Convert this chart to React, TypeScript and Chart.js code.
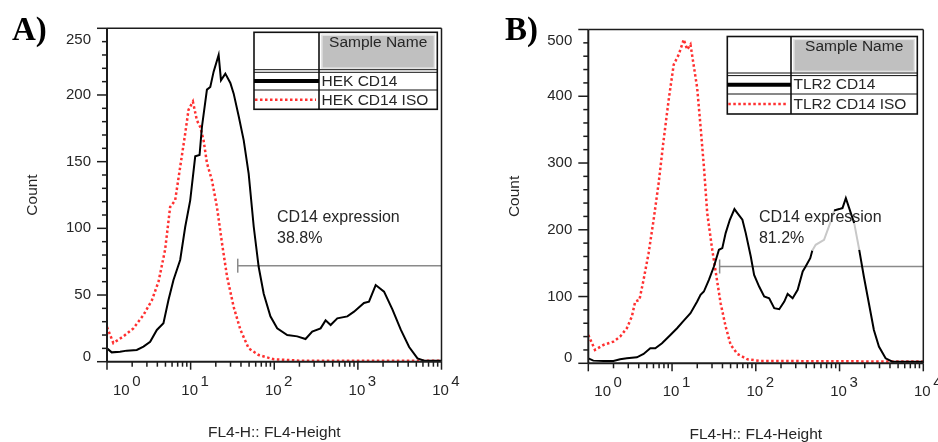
import React, { useEffect, useRef } from "react";
import { Chart, registerables } from "chart.js";

Chart.register(...registerables);

// ---------- Panel A data (HEK) ----------
const hekCd14X = [1, 1.138, 1.432, 1.722, 2.27, 2.729, 3.281, 3.945, 4.732, 5.433, 6.237, 7.499, 8.61, 9.886, 11.35, 12.79, 13.65, 15.67, 17.18, 18.84, 21.63, 23.07, 26.0, 29.85, 32.73, 37.58, 43.15, 49.43, 56.89, 65.16, 74.82, 89.95, 108.4, 142.9, 188.4, 236.6, 284.4, 358.1, 411.1, 472.1, 567.5, 748.2, 899.5, 1183, 1358, 1633, 2056, 2594, 3258, 4102, 5164, 6209, 10000];
const hekCd14Count = [10, 7, 7.5, 8.3, 8.8, 11.3, 15, 23.8, 28.8, 46.3, 61.3, 76.3, 101, 121, 154, 155, 176, 204, 206, 217.5, 230, 211, 216, 209, 201, 184, 166, 141, 101, 71, 51, 34, 25, 20, 19, 17, 22.5, 25, 31, 27.5, 32.5, 34, 37.5, 44, 45, 57.5, 52.5, 39, 24, 11, 2.5, 0.8, 0.8];
const hekIsoX = [1, 1.191, 1.57, 2.07, 2.729, 3.436, 4.13, 4.955, 5.689, 6.531, 7.499, 8.61, 9.441, 10.64, 11.89, 13.03, 14.29, 15.67, 17.99, 20.65, 23.71, 27.23, 32.73, 39.36, 49.43, 65.16, 98.6, 199.5, 10000];
const hekIsoCount = [26, 14, 19, 25, 35, 46, 60, 84, 116, 121, 146, 171, 189, 195, 181, 176, 166, 149, 136, 116, 89, 64, 41, 24, 10, 5, 1.8, 0.8, 0.8];

// ---------- Panel B data (TLR2) ----------
const tlr2Cd14X = [1, 1.148, 1.514, 1.995, 2.399, 2.884, 3.802, 4.571, 5.495, 6.31, 7.586, 9.55, 11.48, 13.8, 16.6, 19.95, 21.88, 23.99, 27.54, 31.62, 36.31, 39.81, 43.65, 48.98, 55.59, 60.26, 69.18, 75.86, 87.1, 95.5, 109.6, 125.9, 144.5, 166.0, 190.5, 218.8, 239.9, 275.4, 316.2, 363.1, 393.6, 446.7, 473.2, 518.8, 653.1, 785.2, 861.0, 988.6, 1084, 1189, 1303, 1496, 1718, 1950, 2239, 2570, 2951, 3548, 4266, 10000];
const tlr2Cd14Count = [7.5, 4, 3.5, 3.5, 6, 7.5, 9, 14, 22.5, 22.5, 30, 42.5, 52.5, 64, 75, 92.5, 102.5, 107.5, 125, 145, 170, 172.5, 195, 215, 231, 225, 215, 195, 160, 132.5, 115, 100, 97.5, 82.5, 81, 92.5, 104, 97.5, 110, 137.5, 145, 157.5, 169, 177.5, 185, 212.5, 229, 231, 232.5, 247.5, 232.5, 210, 170, 130, 90, 50, 25, 7.5, 2.5, 2.5];
const tlr2IsoX = [1, 1.202, 1.514, 1.995, 2.399, 2.884, 3.311, 3.631, 4.074, 4.571, 5.248, 6.026, 6.918, 7.943, 9.12, 10.47, 12.02, 13.8, 15.14, 16.6, 18.2, 19.95, 21.88, 23.99, 26.3, 30.2, 33.88, 38.02, 43.65, 50.12, 60.26, 79.43, 114.8, 10000];
const tlr2IsoCount = [42.5, 20, 27.5, 32.5, 40, 52.5, 70, 92.5, 95, 125, 165, 215, 270, 335, 395, 447.5, 462.5, 485, 470, 477.5, 445, 412.5, 355, 295, 225, 170, 130, 90, 55, 27.5, 14, 6, 3.5, 2.5];

// ---------- axes / labels ----------
const xDecades = [1, 10, 100, 1000, 10000];
const xExponents = ["0", "1", "2", "3", "4"];
const yTicksA = [0, 50, 100, 150, 200, 250];
const yTicksB = [0, 100, 200, 300, 400, 500];
const yMinorStep = [10, 20];
const legendLabelsA = ["HEK CD14", "HEK CD14 ISO"];
const legendLabelsB = ["TLR2 CD14", "TLR2 CD14 ISO"];
const gateStart = [36.6, 37];
const gateLevel = [72, 145];
const gatePercent = ["38.8%", "81.2%"];
const annotX = [108, 109];
const annotY = [108, 218];

const SANS = '"Liberation Sans", Arial, sans-serif';
const INK = "#1c1c1c";
const TXT = "#262626";

type Box = { x0: number; x1: number; y0: number; y1: number; col: number; hdr: number; row1: number };

type PanelCfg = {
  letter: string;
  letterX: number;
  pad: { left: number; right: number; top: number; bottom: number };
  blackX: number[]; blackY: number[];
  redX: number[]; redY: number[];
  yTicks: number[]; yMinor: number;
  legend: string[];
  box: Box;
  gateStart: number; gateLevel: number; percent: string;
  annotX: number; annotY: number;
  mask?: { xMin: number; xMax: number; yMin: number; yMax: number };
};

function line(ctx: CanvasRenderingContext2D, x0: number, y0: number, x1: number, y1: number) {
  ctx.beginPath();
  ctx.moveTo(x0, y0);
  ctx.lineTo(x1, y1);
  ctx.stroke();
}

function makePlugin(cfg: PanelCfg) {
  return {
    id: "flowDecor" + cfg.letter,
    beforeDatasetsDraw(chart: any) {
      const ctx: CanvasRenderingContext2D = chart.ctx;
      const xs = chart.scales.x, ys = chart.scales.y;
      const { right } = chart.chartArea;
      const gx = xs.getPixelForValue(cfg.gateStart);
      const gy = ys.getPixelForValue(cfg.gateLevel);
      ctx.save();
      ctx.strokeStyle = "#8a8a8a";
      ctx.lineWidth = 1.5;
      line(ctx, gx, gy, right, gy);
      line(ctx, gx, gy - 7, gx, gy + 7);
      ctx.restore();
    },
    afterDraw(chart: any) {
      const ctx: CanvasRenderingContext2D = chart.ctx;
      const xs = chart.scales.x, ys = chart.scales.y;
      const { left, right, top, bottom } = chart.chartArea;
      ctx.save();
      ctx.strokeStyle = INK;
      // frame
      ctx.lineWidth = 1.5;
      line(ctx, left, top, right, top);
      line(ctx, right, top, right, bottom);
      ctx.lineWidth = 2;
      line(ctx, left, top, left, bottom);
      line(ctx, left, bottom, right, bottom);
      // x ticks
      ctx.lineWidth = 1.5;
      xDecades.forEach((d, i) => {
        const px = xs.getPixelForValue(d);
        line(ctx, px, bottom, px, bottom + 8);
        if (i < xDecades.length - 1) {
          for (let k = 2; k <= 9; k++) {
            const mx = xs.getPixelForValue(k * d);
            line(ctx, mx, bottom, mx, bottom + 5);
          }
        }
      });
      // y ticks
      const yMax = cfg.yTicks[cfg.yTicks.length - 1];
      for (let v = 0; v <= yMax + 0.001; v += cfg.yMinor) {
        const py = ys.getPixelForValue(v);
        const major = cfg.yTicks.includes(v);
        line(ctx, left - (major ? 10 : 5), py, left, py);
      }
      // y labels
      ctx.fillStyle = TXT;
      ctx.font = "15px " + SANS;
      ctx.textAlign = "right";
      ctx.textBaseline = "middle";
      cfg.yTicks.forEach((v, i) => {
        let py = ys.getPixelForValue(v);
        if (i === cfg.yTicks.length - 1) py = top + 11.5;
        if (i === 0) py = bottom - 5;
        ctx.fillText(String(v), left - 16, py);
      });
      // x labels with superscripts
      ctx.textAlign = "left";
      ctx.textBaseline = "alphabetic";
      xDecades.forEach((d, i) => {
        const px = xs.getPixelForValue(d);
        const w = ctx.measureText("10").width;
        let x0 = px - 1 - w / 2;
        if (i === 0) x0 = left + 6;
        ctx.fillText("10", x0, bottom + 33);
        ctx.fillText(xExponents[i], x0 + w + 2.5, bottom + 24);
      });
      // axis titles
      ctx.font = "15.5px " + SANS;
      ctx.textAlign = "center";
      ctx.textBaseline = "middle";
      ctx.fillText("FL4-H:: FL4-Height", (left + right) / 2, bottom + 71);
      ctx.save();
      ctx.translate(left - 74, (top + bottom) / 2);
      ctx.rotate(-Math.PI / 2);
      ctx.fillText("Count", 0, 0);
      ctx.restore();
      // annotation
      ctx.font = "16px " + SANS;
      ctx.textAlign = "left";
      const ax = xs.getPixelForValue(cfg.annotX);
      const ay = ys.getPixelForValue(cfg.annotY);
      ctx.fillText("CD14 expression", ax, ay);
      ctx.fillText(cfg.percent, ax, ay + 21);
      // legend table
      const b = cfg.box;
      ctx.fillStyle = "#ffffff";
      ctx.fillRect(b.x0, b.y0, b.x1 - b.x0, b.y1 - b.y0);
      ctx.fillStyle = "#c0c0c0";
      ctx.fillRect(b.col + 2.5, b.y0 + 2.5, b.x1 - b.col - 5, b.hdr - b.y0 - 5);
      ctx.strokeStyle = "#e6e6e6";
      ctx.lineWidth = 1.2;
      ctx.strokeRect(b.col + 3, b.y0 + 3, b.x1 - b.col - 6, b.hdr - b.y0 - 6);
      ctx.strokeStyle = "#111";
      ctx.lineWidth = 1.6;
      ctx.strokeRect(b.x0, b.y0, b.x1 - b.x0, b.y1 - b.y0);
      line(ctx, b.col, b.y0, b.col, b.y1);
      ctx.lineWidth = 1;
      line(ctx, b.x0, b.hdr - 1.3, b.x1, b.hdr - 1.3);
      line(ctx, b.x0, b.hdr + 1.3, b.x1, b.hdr + 1.3);
      line(ctx, b.x0, b.row1, b.x1, b.row1);
      const r1 = (b.hdr + b.row1) / 2 + 0.5;
      const r2 = (b.row1 + b.y1) / 2;
      ctx.strokeStyle = "#000";
      ctx.lineWidth = 4;
      line(ctx, b.x0, r1, b.col, r1);
      ctx.strokeStyle = "#ff3030";
      ctx.lineWidth = 2.5;
      ctx.setLineDash([2.5, 2.5]);
      line(ctx, b.x0 + 1, r2, b.col - 3, r2);
      ctx.setLineDash([]);
      ctx.fillStyle = TXT;
      ctx.font = "15.5px " + SANS;
      ctx.textAlign = "center";
      ctx.fillText("Sample Name", (b.col + b.x1) / 2, b.y0 + 10);
      ctx.textAlign = "left";
      ctx.fillText(cfg.legend[0], b.col + 2.5, r1 + 0.5);
      ctx.fillText(cfg.legend[1], b.col + 2.5, r2 + 1);
      // panel letter
      ctx.fillStyle = "#000";
      ctx.font = 'bold 33px "Liberation Serif", "Times New Roman", serif';
      ctx.textBaseline = "alphabetic";
      ctx.fillText(cfg.letter, cfg.letterX, 40);
      ctx.restore();
    },
  };
}

function FlowPanel({ cfg, offset }: { cfg: PanelCfg; offset: number }) {
  const ref = useRef<HTMLCanvasElement>(null);
  useEffect(() => {
    if (!ref.current) return;
    const toPts = (xs: number[], ys: number[]) => xs.map((x, i) => ({ x, y: ys[i] }));
    const mask = cfg.mask;
    const inMask = (i: number) =>
      !!mask &&
      cfg.blackX[i] >= mask.xMin && cfg.blackX[i] <= mask.xMax &&
      cfg.blackY[i] >= mask.yMin && cfg.blackY[i] <= mask.yMax;
    const chart = new Chart(ref.current, {
      type: "line",
      data: {
        datasets: [
          {
            label: cfg.legend[0],
            data: toPts(cfg.blackX, cfg.blackY),
            borderColor: "#000000",
            borderWidth: 2,
            pointRadius: 0,
            tension: 0,
            fill: false,
            segment: {
              borderColor: (c: any) => (inMask(c.p0DataIndex) && inMask(c.p1DataIndex) ? "#c8c8c8" : undefined),
            },
          },
          {
            label: cfg.legend[1],
            data: toPts(cfg.redX, cfg.redY),
            borderColor: "#ff3030",
            borderWidth: 2.5,
            borderDash: [2.5, 2.5],
            pointRadius: 0,
            tension: 0,
            fill: false,
          },
        ],
      },
      options: {
        animation: false,
        responsive: false,
        events: [],
        layout: { padding: cfg.pad },
        scales: {
          x: { type: "logarithmic", min: 1, max: 10000, display: false },
          y: { type: "linear", min: 0, max: cfg.yTicks[cfg.yTicks.length - 1], display: false },
        },
        plugins: { legend: { display: false }, tooltip: { enabled: false } },
      },
      plugins: [makePlugin(cfg)],
    } as any);
    return () => chart.destroy();
  }, [cfg]);
  return (
    <div style={{ position: "absolute", left: offset, top: 0, width: 469, height: 442 }}>
      <canvas ref={ref} width={469} height={442} style={{ width: 469, height: 442, display: "block" }} />
    </div>
  );
}

const panelA: PanelCfg = {
  letter: "A)",
  letterX: 12,
  pad: { left: 107, right: 27.5, top: 28.3, bottom: 80.3 },
  blackX: hekCd14X, blackY: hekCd14Count,
  redX: hekIsoX, redY: hekIsoCount,
  yTicks: yTicksA, yMinor: yMinorStep[0],
  legend: legendLabelsA,
  box: { x0: 254, x1: 437.3, y0: 32.3, y1: 109.3, col: 319, hdr: 71, row1: 90 },
  gateStart: gateStart[0], gateLevel: gateLevel[0], percent: gatePercent[0],
  annotX: annotX[0], annotY: annotY[0],
};

const panelB: PanelCfg = {
  letter: "B)",
  letterX: 36,
  pad: { left: 119.3, right: 14.7, top: 29.5, bottom: 78.7 },
  blackX: tlr2Cd14X, blackY: tlr2Cd14Count,
  redX: tlr2IsoX, redY: tlr2IsoCount,
  yTicks: yTicksB, yMinor: yMinorStep[1],
  legend: legendLabelsB,
  box: { x0: 258.3, x1: 448.3, y0: 36.5, y1: 114, col: 322, hdr: 74.3, row1: 94 },
  gateStart: gateStart[1], gateLevel: gateLevel[1], percent: gatePercent[1],
  annotX: annotX[1], annotY: annotY[1],
  mask: { xMin: 300, xMax: 1880, yMin: 160, yMax: 230 },
};

export default function App() {
  return (
    <div style={{ position: "absolute", left: 0, top: 0, width: 938, height: 442, background: "#fff", overflow: "hidden" }}>
      <FlowPanel cfg={panelA} offset={0} />
      <FlowPanel cfg={panelB} offset={469} />
    </div>
  );
}
